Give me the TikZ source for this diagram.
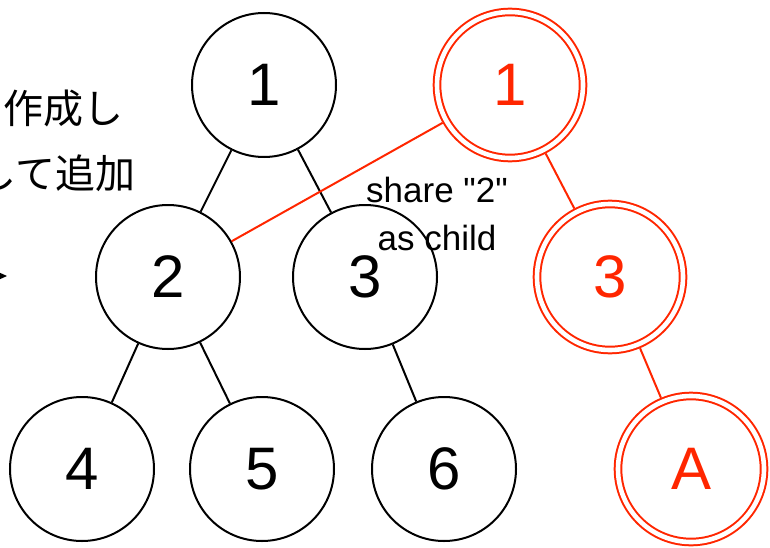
\documentclass[tikz,border=0pt]{standalone}
\usepackage{fontspec}
\setmainfont{Liberation Sans}
\newfontfamily\jpfont{Noto Sans CJK JP}
\usetikzlibrary{arrows, arrows.meta}

\definecolor{newred}{RGB}{255,38,0}

\begin{document}
\begin{tikzpicture}[> = stealth, % arrow head style
                x = 1pt, y = -1pt, % pixel like coordinates
                line width = 2pt % line style
            ]
            \useasboundingbox (0,0) rectangle (770,548);

            \tikzstyle{vertex}=[draw = black, circle, inner sep = 0pt,
            minimum size = 144pt, font = \fontsize{60}{72}\selectfont]
            \tikzstyle{newvertex}=[vertex, draw = newred, text = newred,
            double, line width = 2pt, double distance = 4.6pt,
            minimum size = 146pt, outer sep = 4.3pt]
            \tikzstyle{note}=[align = center, font = \fontsize{35}{48}\selectfont]
            \tikzstyle{jp}=[anchor = east, inner sep = 0pt,
            font = \jpfont\fontsize{40}{48}\selectfont]

            % old tree
            \node[vertex] (n1) at (264,85) {1}; \node[vertex] (n2) at
            (168,277) {2}; \node[vertex] (n3) at (365,277) {3};
            \node[vertex] (n4) at (82,469) {4}; \node[vertex] (n5) at
            (262,469) {5}; \node[vertex] (n6) at (444,469) {6};

            % new tree
            \node[newvertex] (r1) at (510,85) {1}; \node[newvertex] (r3)
            at (610,277) {3}; \node[newvertex] (rA) at (691,469) {A};

            \node[note] (share) at (437,214) {share \textquotedbl
            2\textquotedbl\\as child};

            \node[jp] (jpa) at (124,108) {作成し}; \node[jp] (jpb) at
            (136,173) {して追加};

            \coordinate (tail) at (-40,276); \coordinate (tip) at (7,276);

            \path (n1) edge (n2); \path (n1) edge (n3); \path (n2) edge
            (n4); \path (n2) edge (n5); \path (n3) edge (n6);

            \path[draw = newred] (r1) edge (n2); \path[draw = newred] (r1)
            edge (r3); \path[draw = newred] (r3) edge (rA);

            \draw[-{Stealth[length = 10pt, width = 9pt]}] (tail) -- (tip);
\end{tikzpicture}
\end{document}
